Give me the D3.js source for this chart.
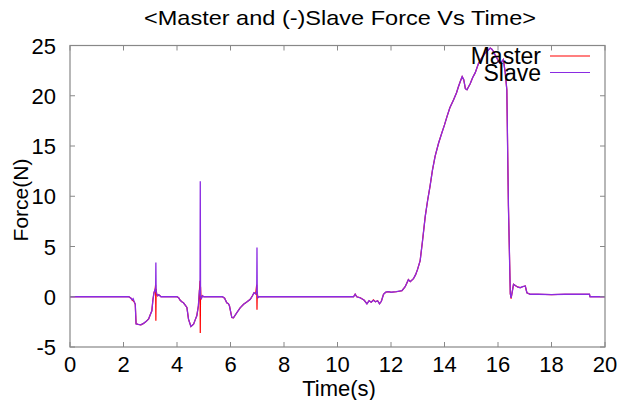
<!DOCTYPE html>
<html>
<head>
<meta charset="utf-8">
<script src="https://cdn.jsdelivr.net/npm/d3@7"></script>
<style>
  body { margin: 0; background: #fff; }
  svg { display: block; font-family: "Liberation Sans", Arial, sans-serif; }
</style>
</head>
<body>
<div id="chart"></div>
<script>
// Time stamps (s) shared by both series
const time = [0, 2.2, 2.28, 2.32, 2.36, 2.4, 2.44, 2.47, 2.55, 2.65, 2.75, 2.85, 2.94, 3.0, 3.06, 3.1, 3.14, 3.18, 3.2, 3.21, 3.22, 3.24, 3.28, 3.32, 3.4, 3.5,
  4.0, 4.06, 4.12, 4.18, 4.24, 4.3, 4.37, 4.43, 4.52, 4.62, 4.68, 4.74, 4.8, 4.84, 4.86, 4.87, 4.88, 4.9, 4.95, 5.0, 5.1,
  5.7, 5.78, 5.86, 5.92, 5.96, 6.05, 6.11, 6.24, 6.36, 6.49, 6.62, 6.74, 6.82, 6.88, 6.94, 6.98, 6.99, 7.0, 7.02, 7.06, 7.12, 7.2,
  10.6, 10.66, 10.72, 10.85, 11.0, 11.1, 11.18, 11.26, 11.34, 11.42, 11.5, 11.57, 11.64, 11.72, 11.8, 11.9, 12.0, 12.2,
  12.41, 12.53, 12.65, 12.72, 12.84, 12.92, 12.99, 13.09, 13.18, 13.28, 13.37, 13.46, 13.55, 13.65, 13.78, 13.9, 14.0, 14.09, 14.2,
  14.34, 14.45, 14.52, 14.6, 14.66, 14.72, 14.78, 14.84, 14.9, 14.96, 15.05, 15.15, 15.27, 15.4, 15.52, 15.62, 15.71, 15.78, 15.83,
  15.9, 15.96, 16.02, 16.08, 16.14, 16.2, 16.27, 16.33, 16.39, 16.46, 16.49, 16.54, 16.58, 16.66, 16.75, 16.83, 16.92, 17.02, 17.08,
  17.2, 17.5, 18.0, 18.5, 19.0, 19.42, 19.44, 20.0];

// Master force (N)
const master = [0, 0, -0.15, -0.3, -0.4, -0.5, -0.75, -2.7, -2.75, -2.8, -2.65, -2.45, -2.2, -1.8, -1.4, -0.3, 0.4, 0.7, 1.2, -2.4, 0.8, 0.3, 0.1, 0.2, 0, 0,
  0, -0.1, -0.35, -0.5, -0.6, -0.8, -1.07, -2.23, -2.96, -2.73, -2.3, -1.9, -0.9, 0.7, 1.6, -3.6, 1.0, -0.25, 0.1, 0, 0,
  0, -0.15, -0.6, -0.7, -0.9, -2.07, -2.1, -1.57, -1.1, -0.75, -0.5, -0.25, 0.1, 0.4, 0.3, 1.2, -1.3, 0.5, -0.1, 0, 0, 0,
  0, 0.25, 0, -0.1, -0.35, -0.7, -0.4, -0.55, -0.3, -0.5, -0.4, -0.7, -0.45, 0.25, 0.45, 0.5, 0.45, 0.5,
  0.6, 1.0, 1.7, 1.5, 1.8, 2.2, 2.7, 3.6, 5.6, 8.0, 9.6, 11.0, 12.6, 14.0, 15.3, 16.3, 17.1, 17.9, 18.8,
  19.6, 20.3, 20.9, 21.5, 21.9, 21.6, 20.7, 20.6, 20.9, 21.2, 21.8, 22.3, 23.2, 23.8, 24.25, 24.5, 24.75, 24.6, 24.4,
  24.0, 23.75, 23.4, 23.25, 23.4, 23.6, 22.3, 20.6, 9.0, 0.3, -0.2, 0.6, 1.24, 1.1, 0.95, 0.9, 1.0, 1.07, 0.4,
  0.25, 0.25, 0.22, 0.25, 0.25, 0.25, 0, 0];

// (-)Slave force (N)
const slave = [0, 0, -0.15, -0.3, -0.2, -0.5, -0.75, -2.7, -2.75, -2.8, -2.65, -2.45, -2.2, -1.8, -1.4, -0.3, 0.4, 0.7, 0.5, 3.4, 0.5, 0.3, 0.1, 0.2, 0, 0,
  0, -0.1, -0.35, -0.5, -0.6, -0.8, -1.07, -2.23, -2.96, -2.73, -2.3, -1.9, -0.9, 0.7, 0.3, 11.5, 0.2, -0.25, 0.1, 0, 0,
  0, -0.15, -0.6, -0.7, -0.9, -2.07, -2.1, -1.57, -1.1, -0.75, -0.5, -0.25, 0.1, 0.4, 0.3, 0.5, 4.9, 0.3, -0.1, 0, 0, 0,
  0, 0.25, 0, -0.1, -0.35, -0.7, -0.4, -0.55, -0.35, -0.5, -0.4, -0.7, -0.45, 0.25, 0.45, 0.5, 0.45, 0.5,
  0.6, 1.0, 1.7, 1.5, 1.8, 2.2, 2.7, 3.6, 5.6, 8.0, 9.6, 11.0, 12.6, 14.0, 15.3, 16.3, 17.1, 17.9, 18.8,
  19.6, 20.3, 20.9, 21.5, 21.9, 21.6, 20.7, 20.6, 20.9, 21.2, 21.8, 22.3, 23.2, 23.8, 24.25, 24.5, 24.75, 24.6, 24.4,
  24.0, 23.75, 23.4, 23.25, 23.4, 23.6, 22.3, 20.6, 9.0, 0.3, -0.1, 0.6, 1.24, 1.1, 0.95, 0.9, 1.0, 1.07, 0.4,
  0.25, 0.25, 0.22, 0.25, 0.25, 0.25, 0, 0];

const xTicks = [0, 2, 4, 6, 8, 10, 12, 14, 16, 18, 20];
const yTicks = [-5, 0, 5, 10, 15, 20, 25];
const seriesNames = ["Master", "Slave"];
const seriesColors = ["#ff0000", "#8a2be2"];

const width = 623, height = 400;
const margin = { top: 45.5, right: 18, bottom: 53, left: 70 };

const svg = d3.select("#chart").append("svg")
  .attr("width", width)
  .attr("height", height);

const x = d3.scaleLinear().domain([0, 20]).range([margin.left, width - margin.right]);
const y = d3.scaleLinear().domain([-5, 25]).range([height - margin.bottom, margin.top]);

// plot lines
const line = d3.line()
  .x((d, i) => x(time[i]))
  .y(d => y(d));

[master, slave].forEach((series, k) => {
  svg.append("path")
    .datum(series)
    .attr("fill", "none")
    .attr("stroke", seriesColors[k])
    .attr("stroke-width", k === 0 ? 1.2 : 1.3)
    .attr("d", line);
});

// border box
svg.append("rect")
  .attr("x", x(0)).attr("y", y(25))
  .attr("width", x(20) - x(0)).attr("height", y(-5) - y(25))
  .attr("fill", "none")
  .attr("stroke", "#888")
  .attr("stroke-width", 1.2);

// ticks, gnuplot style: inside and mirrored
const tickLen = 5;
xTicks.forEach(t => {
  svg.append("line").attr("x1", x(t)).attr("x2", x(t))
    .attr("y1", y(-5)).attr("y2", y(-5) - tickLen).attr("stroke", "#888");
  svg.append("line").attr("x1", x(t)).attr("x2", x(t))
    .attr("y1", y(25)).attr("y2", y(25) + tickLen).attr("stroke", "#888");
  svg.append("text")
    .attr("x", x(t)).attr("y", y(-5) + 25)
    .attr("text-anchor", "middle")
    .style("font-size", "22px")
    .text(t);
});
yTicks.forEach(v => {
  svg.append("line").attr("x1", x(0)).attr("x2", x(0) + tickLen)
    .attr("y1", y(v)).attr("y2", y(v)).attr("stroke", "#888");
  svg.append("line").attr("x1", x(20)).attr("x2", x(20) - tickLen)
    .attr("y1", y(v)).attr("y2", y(v)).attr("stroke", "#888");
  svg.append("text")
    .attr("x", x(0) - 14).attr("y", y(v) + 8)
    .attr("text-anchor", "end")
    .style("font-size", "22px")
    .text(v);
});

// title and axis labels
svg.append("text")
  .attr("x", 340).attr("y", 25)
  .attr("text-anchor", "middle")
  .attr("textLength", 392)
  .attr("lengthAdjust", "spacingAndGlyphs")
  .style("font-size", "21px")
  .text("<Master and (-)Slave Force Vs Time>");

svg.append("text")
  .attr("x", 339).attr("y", 396)
  .attr("text-anchor", "middle")
  .style("font-size", "22px")
  .text("Time(s)");

svg.append("text")
  .attr("transform", "translate(28,200) rotate(-90)")
  .attr("text-anchor", "middle")
  .style("font-size", "21px")
  .text("Force(N)");

// legend
seriesNames.forEach((name, k) => {
  const ly = 56 + k * 16.5;
  svg.append("text")
    .attr("x", 541).attr("y", ly + 8)
    .attr("text-anchor", "end")
    .style("font-size", "23px")
    .text(name);
  svg.append("line")
    .attr("x1", 550).attr("x2", 590)
    .attr("y1", ly).attr("y2", ly)
    .attr("stroke", seriesColors[k])
    .attr("stroke-width", 1.2);
});
</script>
</body>
</html>
